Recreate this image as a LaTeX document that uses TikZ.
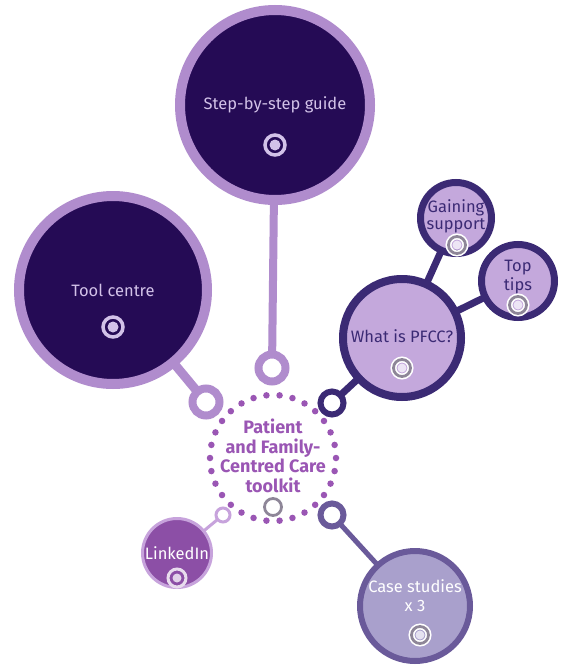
\documentclass[tikz,border=0pt]{standalone}
\usepackage{fontspec}
\setmainfont{Fira Sans}
\usetikzlibrary{backgrounds}
\definecolor{deep}{HTML}{250B55}
\definecolor{lilac}{HTML}{B08CCD}
\definecolor{ink}{HTML}{3B2A74}
\definecolor{pale}{HTML}{C4A8DC}
\definecolor{orchid}{HTML}{9A56B4}
\definecolor{linkfill}{HTML}{8C4FA6}
\definecolor{linkring}{HTML}{C7A3DC}
\definecolor{casefill}{HTML}{A9A0CC}
\definecolor{casering}{HTML}{6A5A9A}
\definecolor{softtext}{HTML}{D2C2E8}
\definecolor{greyring}{HTML}{8E8698}
\begin{document}
\begin{tikzpicture}[x=1pt,y=-1pt,
  disc/.style={circle, inner sep=0pt, outer sep=0pt},
  ringnode/.style={circle, inner sep=0pt, outer sep=0pt, fill=white},
  lbl/.style={align=center, inner sep=0pt, font=\fontsize{16.5}{19}\selectfont},
  tdark/.style={circle, draw=softtext, line width=3.5pt, fill=deep, minimum size=20pt, inner sep=0pt,
     path picture={\fill[softtext] (path picture bounding box.center) circle (5.5pt);}},
  tlight/.style={circle, draw=greyring, line width=2.8pt, minimum size=17pt, inner sep=0pt,
     preaction={draw=white, line width=6pt},
     path picture={\fill[white!70!#1] (path picture bounding box.center) circle (4.5pt);}},
  dot/.style={circle, fill=orchid, inner sep=0pt, minimum size=6.5pt}
]
\useasboundingbox (0,0) rectangle (568,669);

% big circles
\node[disc, draw=lilac, fill=deep, line width=10pt, minimum size=190pt] (step) at (275,105) {};
\node[disc, draw=lilac, fill=deep, line width=10pt, minimum size=188pt] (tool) at (113,290) {};
\node[disc, draw=ink, fill=pale, line width=8pt, minimum size=118pt] (pfcc) at (402,338) {};
\node[disc, draw=ink, fill=pale, line width=7pt, minimum size=71pt] (gain) at (456,218) {};
\node[disc, draw=ink, fill=pale, line width=7pt, minimum size=73pt] (tips) at (518,281) {};
\node[disc, draw=linkring, fill=linkfill, line width=3pt, minimum size=69pt] (link) at (177,553) {};
\node[disc, draw=casering, fill=casefill, line width=6pt, minimum size=110pt] (case) at (415,606) {};

% small rings
\node[ringnode, draw=lilac, line width=8pt, minimum size=27pt] (rstep) at (272,368) {};
\node[ringnode, draw=lilac, line width=8pt, minimum size=27pt] (rtool) at (206,402) {};
\node[ringnode, draw=ink, line width=6pt, minimum size=23pt] (rpfcc) at (332,403) {};
\node[ringnode, draw=casering, line width=6pt, minimum size=23pt] (rcase) at (332,515) {};
\node[ringnode, draw=linkring, line width=3pt, minimum size=14pt] (rlink) at (223,515) {};

% centre
\node[disc, minimum size=126pt] (hub) at (273,458) {};
\foreach \a in {0,12,...,359} \node[dot] at (hub.\a) {};
\node[lbl, text=orchid, font=\fontsize{18}{19.5}\selectfont\bfseries] (hubtxt) at (273,456)
  {Patient\\and Family-\\Centred Care\\toolkit};

% connectors
\begin{scope}[on background layer]
\fill[white] (0,0) rectangle (568,669);
\draw[lilac, line width=8pt] (step) -- (rstep);
\draw[lilac, line width=9pt] (tool) -- (rtool);
\draw[ink, line width=7pt] (pfcc) -- (rpfcc);
\draw[ink, line width=7pt] (pfcc) -- (gain);
\draw[ink, line width=7pt] (pfcc) -- (tips);
\draw[casering, line width=5pt] (case) -- (rcase);
\draw[linkring, line width=3pt] (link) -- (rlink);
\end{scope}

% labels
\node[lbl, text=softtext] (steptxt) at (275,105) {Step-by-step guide};
\node[lbl, text=softtext] (tooltxt) at (113,290) {Tool centre};
\node[lbl, text=ink] (pfcctxt) at (402,336) {What is PFCC?};
\node[lbl, text=ink, font=\fontsize{16.5}{17}\selectfont] (gaintxt) at (456,216) {Gaining\\support};
\node[lbl, text=ink, font=\fontsize{16.5}{19}\selectfont] (tipstxt) at (518,277) {Top\\tips};
\node[lbl, text=white] (linktxt) at (177,553) {LinkedIn};
\node[lbl, text=white] (casetxt) at (415,596) {Case studies\\x 3};

% icons
\node[tdark] (stepicon) at (275,145) {};
\node[tdark] (toolicon) at (113,327) {};
\node[tlight=pale] (pfccicon) at (402,368) {};
\node[tlight=pale] (gainicon) at (457,245) {};
\node[tlight=pale] (tipsicon) at (518,305) {};
\node[tlight=casefill] (caseicon) at (420,635) {};
\node[tlight=white] (hubicon) at (273,507) {};
\node[circle, draw=white!80!linkfill, line width=3pt, fill=linkfill, minimum size=18pt, inner sep=0pt,
  path picture={\fill[white!75!linkfill] (path picture bounding box.center) circle (4.5pt);}] (linkicon) at (177,578) {};
\end{tikzpicture}
\end{document}
